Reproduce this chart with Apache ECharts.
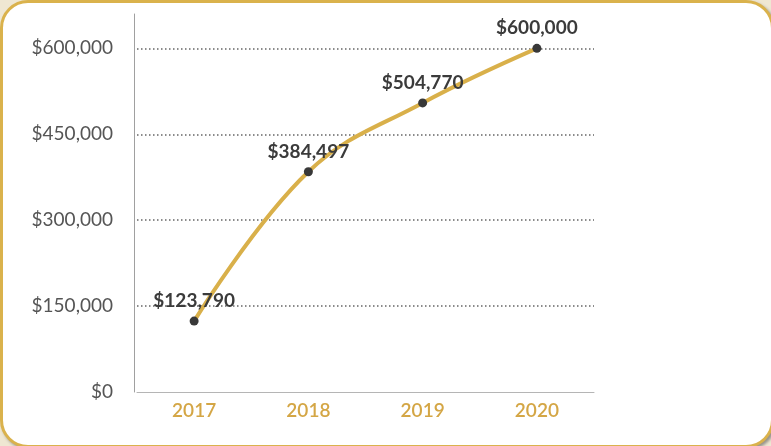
<!DOCTYPE html>
<html>
<head>
<meta charset="utf-8">
<script src="https://cdn.jsdelivr.net/npm/echarts@6/dist/echarts.min.js"></script>
<style>
  html, body { margin: 0; padding: 0; width: 771px; height: 446px; overflow: hidden; background: #efe7d2; }
  #card { position: absolute; left: 0; top: 0; width: 774px; height: 448px; box-sizing: border-box;
          border: 3px solid #dab24c; border-radius: 28px; background: #fff; box-shadow: 2px 2px 3px rgba(90,90,90,0.6); }
  #chart { position: absolute; left: 0; top: 0; width: 771px; height: 446px; }
</style>
</head>
<body>
<div id="card"></div>
<div id="chart"></div>
<script>
const categories = ['2017', '2018', '2019', '2020'];
const values = [123790, 384497, 504770, 600000];
const yTicks = [0, 150000, 300000, 450000, 600000];

const fmt = v => '$' + Math.round(v).toLocaleString('en-US');
const chart = echarts.init(document.getElementById('chart'), null, { renderer: 'canvas' });
chart.setOption({
  backgroundColor: 'transparent',
  animation: false,
  grid: { left: 137, right: 177, top: 14, bottom: 54, containLabel: false },
  xAxis: {
    type: 'category',
    data: categories,
    boundaryGap: true,
    axisLine: { show: true, lineStyle: { color: '#b5b5b5', width: 1 } },
    axisTick: { show: false },
    axisLabel: { color: '#d4a645', fontFamily: 'Lato', fontWeight: 600, fontSize: 19, margin: 9 },
    splitLine: { show: false }
  },
  yAxis: {
    type: 'value',
    min: 0,
    max: 660000,
    interval: 150000,
    offset: 3,
    axisLine: { show: true, lineStyle: { color: '#a0a0a0', width: 1 } },
    axisTick: { show: false },
    axisLabel: {
      color: '#555', fontFamily: 'Lato', fontSize: 19, margin: 21,
      showMaxLabel: false,
      formatter: v => yTicks.includes(v) ? fmt(v) : ''
    },
    splitLine: {
      show: true, showMaxLine: false, showMinLine: false,
      lineStyle: { color: '#666', type: [1.5, 2.5], width: 1.5 }
    }
  },
  series: [{
    type: 'line',
    data: values,
    smooth: 0.4,
    lineStyle: { color: '#d9b04a', width: 4 },
    symbol: 'circle',
    symbolSize: 9,
    itemStyle: { color: '#383838' },
    label: {
      show: true, position: 'top', distance: 6,
      color: '#3b3b3b', fontFamily: 'Lato', fontWeight: 'bold', fontSize: 19,
      formatter: p => fmt(p.value)
    }
  }]
});
</script>
</body>
</html>
